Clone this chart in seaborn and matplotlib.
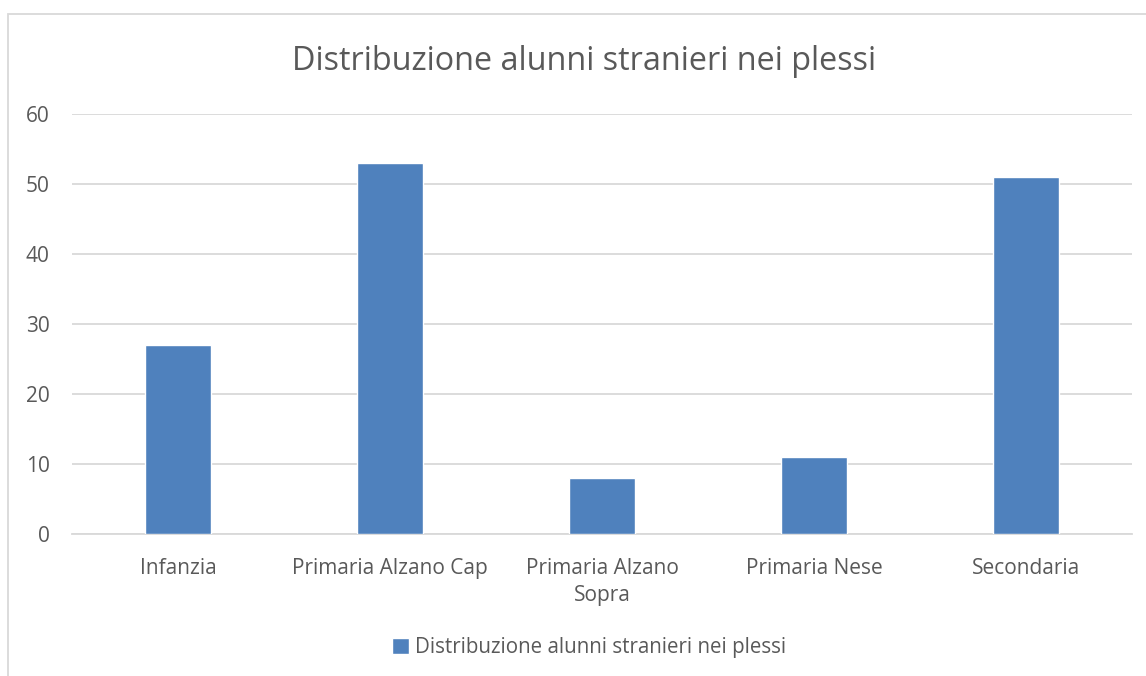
"""
Istogramma: distribuzione alunni stranieri nei plessi.
"""

import matplotlib.pyplot as plt
from matplotlib.patches import Rectangle
import pandas as pd
import seaborn as sns

plessi = ["Infanzia", "Primaria Alzano Cap", "Primaria Alzano\nSopra",
          "Primaria Nese", "Secondaria"]
alunni = [27, 53, 8, 11, 51]
serie = "Distribuzione alunni stranieri nei plessi"

sns.set_style("white")
plt.rcParams["font.family"] = ["Open Sans", "DejaVu Sans"]

df = pd.DataFrame({"plesso": plessi, "alunni": alunni})

fig = plt.figure(figsize=(11.46, 6.76), dpi=100)
ax = fig.add_axes([72 / 1146, 1 - 534 / 676, 1060 / 1146, 420 / 676])

sns.barplot(data=df, x="plesso", y="alunni", color="#4F81BD", saturation=1,
            width=0.316, label=serie, ax=ax, zorder=3)

ax.set_ylim(0, 60)
ax.set_yticks(range(0, 61, 10))
ax.set_xlim(-0.5, 4.5)
ax.grid(axis="y", color="#D9D9D9", linewidth=1.3, zorder=0)
for s in ["top", "right", "left"]:
    ax.spines[s].set_visible(False)
ax.spines["bottom"].set_color("#D9D9D9")
ax.spines["bottom"].set_linewidth(1.3)
ax.set_xlabel("")
ax.set_ylabel("")
ax.tick_params(axis="both", length=0, labelsize=15, colors="#595959")
ax.tick_params(axis="x", pad=17)
ax.tick_params(axis="y", pad=16)
for t in ax.get_xticklabels():
    t.set_linespacing(1.4)

fig.text(584 / 1146, 1 - 61 / 676, serie, ha="center", va="center",
         fontsize=23.3, color="#595959")

ax.legend(loc="center", bbox_to_anchor=(589 / 1146, 1 - 648 / 676),
          bbox_transform=fig.transFigure, frameon=False, fontsize=14.8,
          handlelength=0.8, handleheight=0.8, handletextpad=0.3,
          labelcolor="#595959")

# bordo del riquadro del grafico
fig.patches.append(Rectangle((8 / 1146, -0.1), 1.2, 1.1 - 14 / 676,
                             transform=fig.transFigure, fill=False,
                             edgecolor="#D9D9D9", linewidth=1.3))

fig.savefig("out.png", dpi=100)
